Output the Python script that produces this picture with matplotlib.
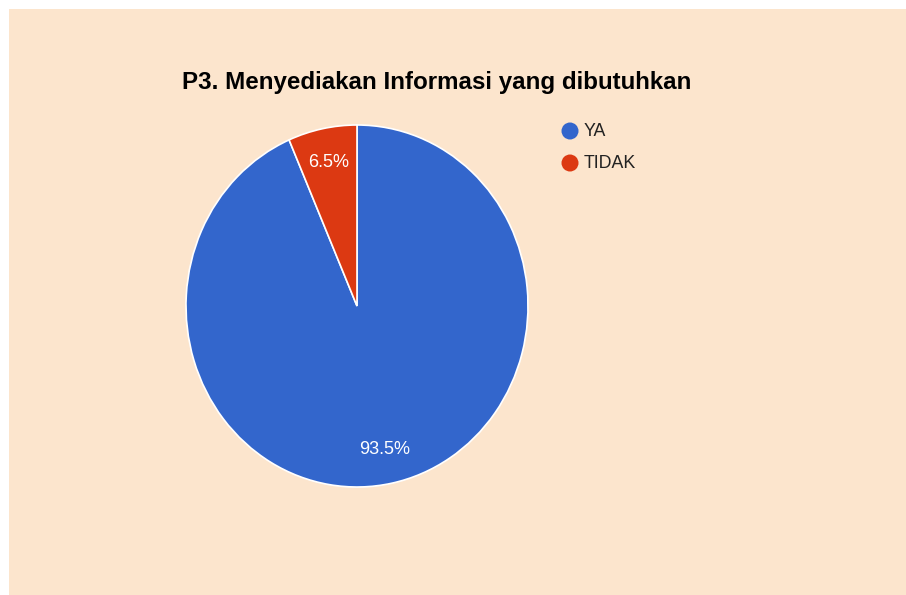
import matplotlib
matplotlib.use("Agg")
import matplotlib.pyplot as plt
from matplotlib.patches import Rectangle, Ellipse

# data
labels = ['YA', 'TIDAK']
values = [93.5, 6.5]
colors = ['#3366CC', '#DC3912']
title = 'P3. Menyediakan Informasi yang dibutuhkan'

plt.rcParams['font.family'] = ['Liberation Sans', 'DejaVu Sans']

W, H = 906, 595
fig = plt.figure(figsize=(W / 100, H / 100), dpi=100)
fig.patch.set_facecolor('white')

# peach background, white strip on left and top
fig.patches.append(Rectangle((9 / W, 0), 1 - 9 / W, 1 - 9 / H, transform=fig.transFigure,
                             facecolor='#FCE5CD', edgecolor='none', zorder=-5))

# pie area (slightly taller than wide, like the original)
ax = fig.add_axes([186 / W, (H - 487) / H, 342 / W, 362 / H])
ax.set_facecolor('none')
wedges, texts, autotexts = ax.pie(values, colors=colors, startangle=90, counterclock=False,
                                  autopct='%.1f%%', pctdistance=0.81,
                                  wedgeprops=dict(edgecolor='white', linewidth=1.2),
                                  textprops=dict(color='white', fontsize=13))
ax.set_xlim(-1, 1)
ax.set_ylim(-1, 1)
ax.set_aspect('auto')
ax.axis('off')

fig.text(437 / W, 1 - 82 / H, title, ha='center', va='center',
         fontsize=17.4, fontweight='bold', color='black')

# legend
for i, (lab, col) in enumerate(zip(labels, colors)):
    y = 1 - (131 + 32 * i) / H
    fig.patches.append(Ellipse((570 / W, y), 17 / W, 17 / H, transform=fig.transFigure,
                               facecolor=col, edgecolor='none'))
    fig.text(584 / W, y, lab, ha='left', va='center', fontsize=12.8, color='#222222')

fig.savefig('out.png', dpi=100, facecolor=fig.get_facecolor())
